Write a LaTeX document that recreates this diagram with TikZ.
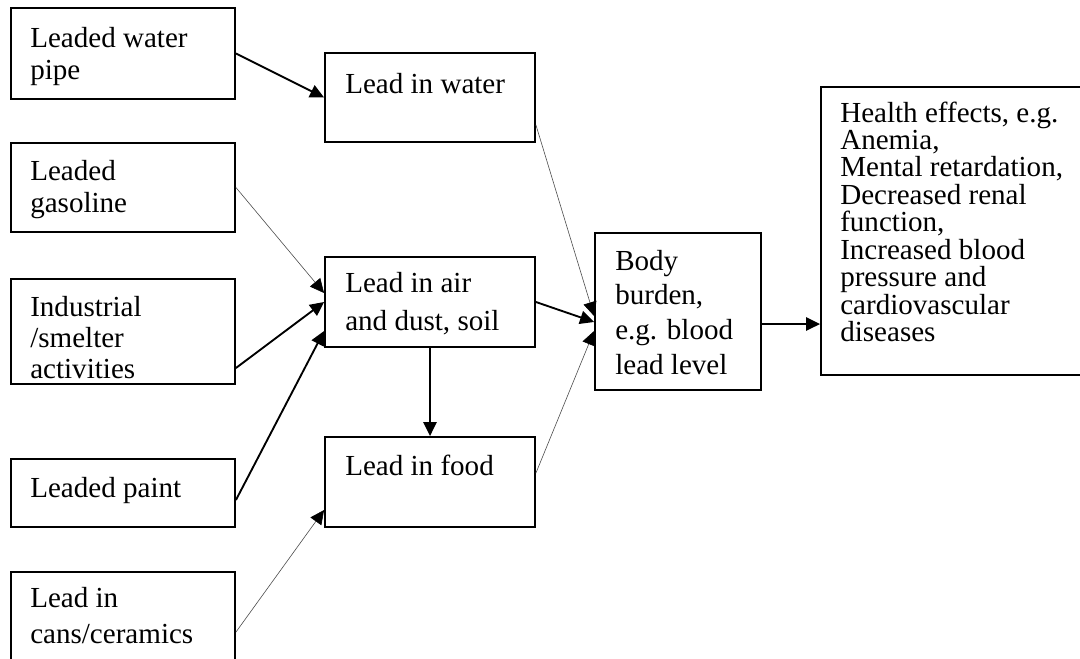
\documentclass[tikz,border=0pt]{standalone}
\usepackage{fontspec}
\setmainfont{Liberation Serif}
\usetikzlibrary{arrows.meta,calc,fit}
\newcommand{\boxtext}[2]{\parbox[t]{300pt}{\raggedright\fontsize{21.8pt}{#1}\selectfont #2}}
\tikzset{
  box/.style={draw, line width=1.4pt, rectangle, inner sep=0pt},
  lbl/.style={anchor=base west, inner sep=0pt},
  tip/.style={-{Triangle[length=10.5pt,width=10pt,color=black]}},
  bold/.style={tip, line width=1.4pt},
  fine/.style={tip, line width=0.45pt, draw=black!70}
}
\begin{document}
\begin{tikzpicture}[x=0.75pt,y=-0.75pt]
\useasboundingbox (0,0) rectangle (1080,658);
% boxes
\node[box, fit={(11,8) (235,99)}] (pipe) {};
\node[box, fit={(11,143) (235,232)}] (gas) {};
\node[box, fit={(11,279) (235,384)}] (ind) {};
\node[box, fit={(11,459) (235,527)}] (paint) {};
\node[box, fit={(11,572) (235,700)}] (cans) {};
\node[box, fit={(325,53) (535,142)}] (water) {};
\node[box, fit={(325,257) (535,347)}] (air) {};
\node[box, fit={(325,437) (535,527)}] (food) {};
\node[box, fit={(595,233) (761,390)}] (body) {};
\node[box, fit={(821,87) (1110,375)}] (health) {};
% texts
\node[lbl] (tpipe) at (30,47) {\boxtext{24pt}{Leaded water\\pipe}};
\node[lbl] (tgas) at (30,180) {\boxtext{24pt}{Leaded\\gasoline}};
\node[lbl] (tind) at (30,316) {\boxtext{23.25pt}{Industrial\\/smelter\\activities}};
\node[lbl] (tpaint) at (30,497) {\boxtext{24pt}{Leaded paint}};
\node[lbl] (tcans) at (30,607) {\boxtext{27pt}{Lead in\\cans/ceramics}};
\node[lbl] (twater) at (345,93) {\boxtext{24pt}{Lead in water}};
\node[lbl] (tair) at (345,292) {\boxtext{28.5pt}{Lead in air\\and dust, soil}};
\node[lbl] (tfood) at (345,475) {\boxtext{24pt}{Lead in food}};
\node[lbl] (tbody) at (615,270) {\boxtext{26pt}{Body\\burden,\\e.g. blood\\lead level}};
\node[lbl] (thealth) at (840,122) {\boxtext{20.6pt}{Health effects, e.g.\\Anemia,\\Mental retardation,\\Decreased renal\\function,\\Increased blood\\pressure and\\cardiovascular\\diseases}};
% connectors
\draw[bold] (pipe.east) -- (water.west);
\draw[fine] (gas.east) -- ($(air.west)+(0,-9)$);
\draw[bold] ($(ind.east)+(0,36.5)$) -- (air.west);
\draw[bold] ($(paint.east)+(0,7)$) -- ($(air.west)+(0,29)$);
\draw[fine] ($(cans.north east)+(0,61)$) -- ($(food.west)+(0,28)$);
\draw[fine] ($(water.east)+(0,27.5)$) -- ($(body.west)+(0,4.5)$);
\draw[bold] (air.east) -- ($(body.west)+(0,10.5)$);
\draw[fine] ($(food.east)+(0,-9)$) -- ($(body.west)+(0,19.5)$);
\draw[bold] (air.south) -- (food.north);
\coordinate (bout) at ($(body.east)+(0,12.5)$);
\draw[bold] (bout) -- (bout -| health.west);
\end{tikzpicture}
\end{document}
